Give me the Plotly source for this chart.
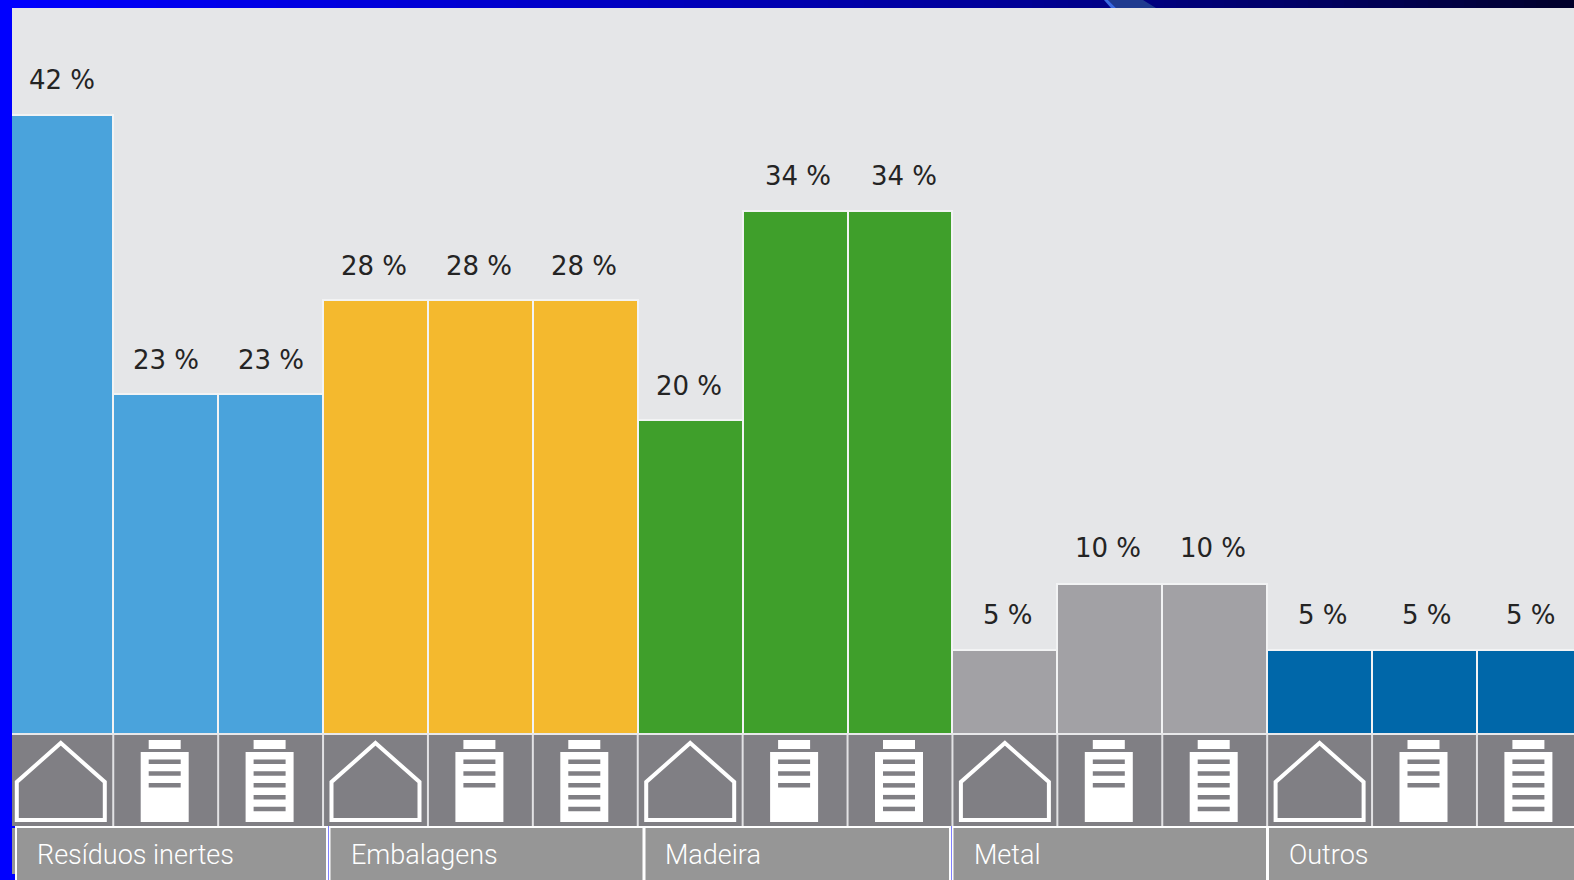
import plotly.graph_objects as go

# ---- data ----
groups = ["Resíduos inertes", "Embalagens", "Madeira", "Metal", "Outros"]
group_colors = ["#4aa3dc", "#f4b92e", "#3f9f2b", "#a2a1a5", "#0067a9"]
icons = ["house", "bottle3", "bottle5"]
bar_heights = [41.27, 22.67, 22.67, 28.93, 28.93, 28.93, 20.93, 34.9, 34.9, 5.6, 10.0, 10.0, 5.6, 5.6, 5.6]
bar_labels = ["42 %", "23 %", "23 %", "28 %", "28 %", "28 %", "20 %", "34 %", "34 %",
              "5 %", "10 %", "10 %", "5 %", "5 %", "5 %"]
categories = list(range(len(bar_heights)))
bar_colors = [group_colors[i // 3] for i in categories]
group_box_edges = [(16, 327), (329.5, 643.5), (644.5, 950), (952.5, 1267), (1268, 1600)]
group_text_x = [35, 349, 663, 972, 1287]

W, H = 1574, 880
X0, PITCH = 60.8, 104.9       # bar centre pixel and pitch
BASE, PXY = 734, 15.0         # baseline pixel, px per unit
label_xshift = [1, 0, 0, -2, -1, -1, -1, 3, 4, 3, -2, -2, 3, 2, 2]
label_yshift = [35, 34, 34, 34, 34, 34, 34, 35, 35, 35, 36, 36, 35, 35, 35]


def px(x):
    return x / W


def py(y):
    return 1 - y / H


def rect(x0, y0, x1, y1, fill, line=None, lw=0):
    return dict(type="rect", xref="paper", yref="paper", x0=px(x0), x1=px(x1), y0=py(y0), y1=py(y1),
                fillcolor=fill, line=dict(color=line or fill, width=lw), layer="above")


def poly(points, fill="rgba(0,0,0,0)", line="white", lw=4):
    path = "M " + " L ".join(f"{px(a):.5f},{py(b):.5f}" for a, b in points) + " Z"
    return dict(type="path", xref="paper", yref="paper", path=path, fillcolor=fill,
                line=dict(color=line, width=lw), layer="above")


shapes = []
# top gradient strip
stops = [(0, (0, 0, 255)), (500, (0, 0, 205)), (1000, (0, 0, 152)), (1300, (0, 0, 100)), (1574, (0, 0, 40))]
step = 12
for xs in range(0, W, step):
    for (a, ca), (b, cb) in zip(stops, stops[1:]):
        if a <= xs < b:
            t = (xs - a) / (b - a)
            c = [round(ca[k] + t * (cb[k] - ca[k])) for k in range(3)]
            shapes.append(rect(xs, 0, xs + step, 8, f"rgb({c[0]},{c[1]},{c[2]})"))
            break
shapes.append(poly([(1108, 0), (1143, 0), (1156, 8), (1116, 8)], fill="#1e3a8f", line="#1e3a8f", lw=0))
shapes.append(poly([(1104, 0), (1108, 0), (1116, 8), (1111, 8)], fill="#3a6ae0", line="#3a6ae0", lw=0))

# icon strip
shapes.append(rect(12, 734, W, 826, "#807f84"))
shapes.append(rect(12, 733, W, 735, "#e8e8ea"))
for i in categories[1:]:
    xe = X0 + PITCH * (i - 0.5)
    shapes.append(rect(xe - 1, 735, xe + 1, 826, "#e2e2e4"))
for i in categories:
    c = X0 + PITCH * i
    kind = icons[i % 3]
    if kind == "house":
        shapes.append(poly([(c, 743), (c + 44, 782), (c + 44, 820), (c - 44, 820), (c - 44, 782)]))
    else:
        c -= 1
        shapes.append(rect(c - 16, 740, c + 16, 749, "white"))
        shapes.append(rect(c - 24, 752, c + 24, 822, "white"))
        n = 3 if kind == "bottle3" else 5
        for k in range(n):
            top = 759.5 + k * 11.8
            shapes.append(rect(c - 16, top, c + 16, top + 4.5, "#807f84"))

# group label boxes
shapes.append(rect(12, 826, W, H, "#0000ff"))
shapes.append(rect(12, 828, 16, 874, "#969696"))
for x0, x1 in group_box_edges:
    shapes.append(rect(x0, 827, x1, H + 4, "#969696", "white", 2))

# blue left edge
shapes.append(rect(0, 0, 12, H, "#0000ff"))

fig = go.Figure(go.Bar(
    x=categories, y=bar_heights, width=1,
    marker=dict(color=bar_colors, line=dict(color="#f2f3f4", width=2)),
    hoverinfo="skip",
))

annotations = [
    dict(x=i, y=bar_heights[i], text=bar_labels[i], xref="x", yref="y", showarrow=False,
         yanchor="middle", xanchor="center", xshift=label_xshift[i], yshift=label_yshift[i],
         font=dict(family="DejaVu Sans", size=26, color="#242424"))
    for i in categories
]
for name, tx in zip(groups, group_text_x):
    annotations.append(dict(x=px(tx), y=py(855), xref="paper", yref="paper", text=name, showarrow=False,
                            xanchor="left", yanchor="middle",
                            font=dict(family="Roboto", size=27, weight=300, color="white")))

fig.update_layout(
    width=W, height=H, margin=dict(l=0, r=0, t=0, b=0),
    paper_bgcolor="#e5e6e8", plot_bgcolor="#e5e6e8",
    showlegend=False, bargap=0,
    xaxis=dict(visible=False, range=[(0 - X0) / PITCH, (W - X0) / PITCH]),
    yaxis=dict(visible=False, range=[(BASE - H) / PXY, BASE / PXY]),
    shapes=shapes, annotations=annotations,
)
fig.write_html("out.html", config={"displayModeBar": False},
               post_script="document.body.style.margin='0';document.body.style.overflow='hidden';")
